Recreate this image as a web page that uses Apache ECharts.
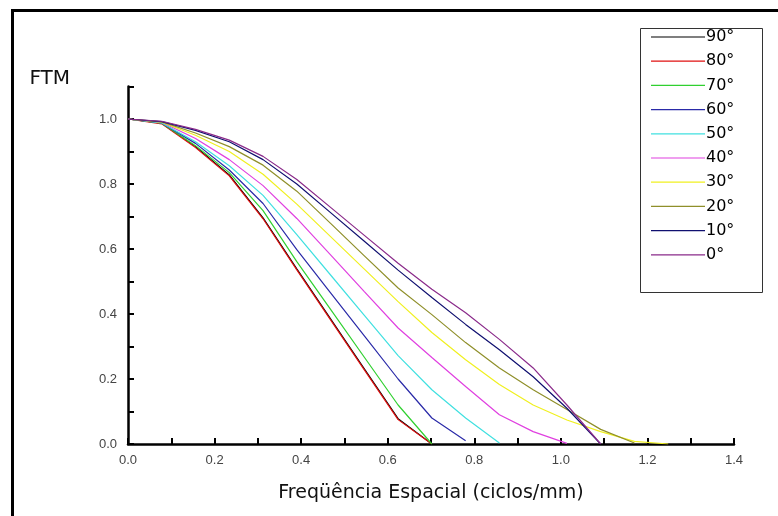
<!DOCTYPE html>
<html>
<head>
<meta charset="utf-8">
<script src="https://cdn.jsdelivr.net/npm/echarts@6/dist/echarts.min.js"></script>
<style>html,body{margin:0;padding:0;background:#fff;}#c{width:778px;height:516px;}</style>
</head>
<body>
<div id="c"></div>
<script>
// Spatial frequency (ciclos/mm) sample points
const freq = [0, 0.078, 0.156, 0.234, 0.312, 0.39, 0.468, 0.546, 0.624, 0.702, 0.78, 0.858, 0.936, 1.014, 1.092, 1.17, 1.248];
// MTF values per angle
const ftm90 = [1.0, 0.987, 0.915, 0.828, 0.696, 0.539, 0.385, 0.231, 0.078, 0.0];
const ftm80 = [1.0, 0.985, 0.912, 0.825, 0.693, 0.536, 0.382, 0.228, 0.075, 0.0];
const ftm70 = [1.0, 0.987, 0.918, 0.835, 0.718, 0.561, 0.414, 0.267, 0.12, 0.0];
const ftm60 = [1.0, 0.988, 0.925, 0.843, 0.74, 0.598, 0.465, 0.333, 0.2, 0.08, 0.01];
const ftm50 = [1.0, 0.988, 0.93, 0.856, 0.765, 0.644, 0.52, 0.396, 0.272, 0.167, 0.08, 0.003];
const ftm40 = [1.0, 0.99, 0.94, 0.875, 0.795, 0.694, 0.582, 0.469, 0.357, 0.266, 0.177, 0.09, 0.038, 0.002];
const ftm30 = [1.0, 0.99, 0.95, 0.90, 0.83, 0.738, 0.638, 0.538, 0.438, 0.343, 0.259, 0.183, 0.12, 0.074, 0.038, 0.008, 0.0];
const ftm20 = [1.0, 0.991, 0.957, 0.915, 0.858, 0.778, 0.679, 0.579, 0.48, 0.398, 0.312, 0.234, 0.167, 0.106, 0.045, 0.003];
const ftm10 = [1.0, 0.992, 0.965, 0.93, 0.875, 0.80, 0.712, 0.624, 0.535, 0.451, 0.368, 0.29, 0.207, 0.11, 0.0];
const ftm0  = [1.0, 0.993, 0.968, 0.935, 0.885, 0.814, 0.728, 0.642, 0.556, 0.476, 0.404, 0.322, 0.234, 0.12, 0.0];

const seriesNames = ['90°', '80°', '70°', '60°', '50°', '40°', '30°', '20°', '10°', '0°'];
const seriesValues = [ftm90, ftm80, ftm70, ftm60, ftm50, ftm40, ftm30, ftm20, ftm10, ftm0];
const seriesColors = ['#000000', '#e01010', '#30d030', '#2a2aa8', '#40e0e0', '#e040e0', '#f0f020', '#8f8f2a', '#101070', '#8a2a8a'];

const xTitle = 'Freqüência Espacial (ciclos/mm)';
const yTitle = 'FTM';

const chart = echarts.init(document.getElementById('c'), null, {renderer: 'canvas'});

const series = seriesNames.map((name, i) => ({
  name: name,
  type: 'line',
  symbol: 'none',
  smooth: false,
  animation: false,
  lineStyle: {color: seriesColors[i], width: 1.2},
  itemStyle: {color: seriesColors[i]},
  data: seriesValues[i].map((v, k) => [freq[k], v])
}));

const labelFmt = v => (Math.round(v * 10) % 2 === 0) ? v.toFixed(1) : '';

chart.setOption({
  animation: false,
  backgroundColor: '#ffffff',
  grid: {left: 128, top: 86.5, width: 606, height: 357.5, containLabel: false},
  xAxis: {
    type: 'value', min: 0, max: 1.4, interval: 0.1,
    name: xTitle, nameLocation: 'middle', nameGap: 49,
    nameTextStyle: {fontFamily: 'DejaVu Sans', fontSize: 19, color: '#111', verticalAlign: 'middle'},
    axisLine: {show: true, onZero: false, lineStyle: {color: '#000', width: 2.5}},
    axisTick: {show: true, inside: true, length: 6, lineStyle: {color: '#000', width: 2}},
    axisLabel: {formatter: labelFmt, margin: 10, fontFamily: 'Liberation Sans', fontSize: 13, color: '#444'},
    splitLine: {show: false}
  },
  yAxis: {
    type: 'value', min: 0, max: 1.1, interval: 0.1,
    name: yTitle, nameLocation: 'end', nameGap: 8,
    nameTextStyle: {fontFamily: 'DejaVu Sans', fontSize: 20, color: '#111', align: 'right', verticalAlign: 'middle', padding: [0, 58, 0, 0]},
    axisLine: {show: true, onZero: false, lineStyle: {color: '#000', width: 2.5}},
    axisTick: {show: true, inside: true, length: 6, lineStyle: {color: '#000', width: 2}},
    axisLabel: {formatter: labelFmt, margin: 11, fontFamily: 'Liberation Sans', fontSize: 13, color: '#444'},
    splitLine: {show: false}
  },
  legend: {
    orient: 'vertical', left: 646, top: 24,
    icon: 'rect',
    itemWidth: 54, itemHeight: 1.2, itemGap: 8.2,
    selectedMode: false,
    textStyle: {fontFamily: 'DejaVu Sans', fontSize: 16, color: '#000', lineHeight: 15, padding: [0, 0, 0, -4]},
    data: seriesNames
  },
  graphic: [
    {type: 'rect', silent: true, z: 0, shape: {x: 640.5, y: 28.5, width: 122, height: 264}, style: {fill: 'none', stroke: '#333', lineWidth: 1}},
    {type: 'line', silent: true, shape: {x1: 11, y1: 10.5, x2: 778, y2: 10.5}, style: {stroke: '#000', lineWidth: 3}},
    {type: 'line', silent: true, shape: {x1: 12.5, y1: 9, x2: 12.5, y2: 516}, style: {stroke: '#000', lineWidth: 3}}
  ],
  series: series
});
</script>
</body>
</html>
